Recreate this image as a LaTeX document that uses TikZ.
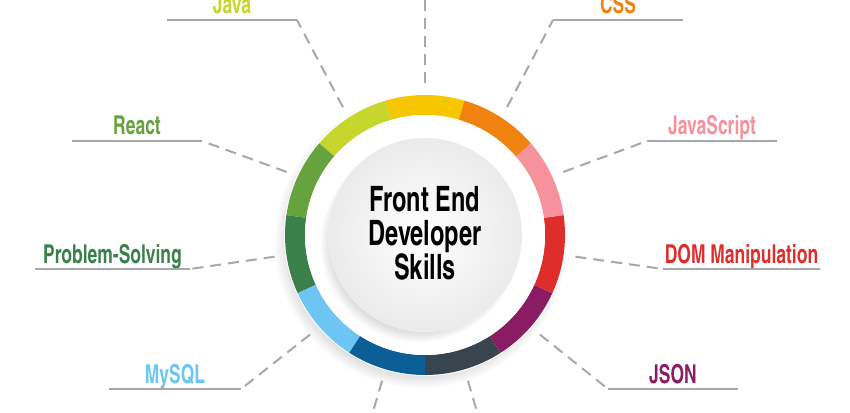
\documentclass[tikz,border=0pt]{standalone}
\usepackage{fontspec}
\usepackage{tikz}
\usetikzlibrary{positioning, calc, shadows}
\newfontfamily\skillfont{texgyreheroscn-bold}[Extension=.otf, FakeStretch=0.82]
\definecolor{ringyellow}{RGB}{246, 198, 0}
\definecolor{ringorange}{RGB}{240, 130, 16}
\definecolor{ringpink}{RGB}{247, 146, 157}
\definecolor{ringred}{RGB}{222, 45, 43}
\definecolor{ringpurple}{RGB}{138, 28, 100}
\definecolor{ringslate}{RGB}{56, 68, 78}
\definecolor{ringnavy}{RGB}{12, 94, 150}
\definecolor{ringsky}{RGB}{108, 197, 242}
\definecolor{ringforest}{RGB}{58, 128, 74}
\definecolor{ringgreen}{RGB}{102, 162, 62}
\definecolor{ringlime}{RGB}{198, 214, 44}
\definecolor{leadergray}{RGB}{168, 168, 168}
\newcommand{\ringpart}[3]{\fill[#1] (#2:120) arc[start angle=#2, end angle=#3, radius=120] -- (#3:140) arc[start angle=#3, end angle=#2, radius=140] -- cycle;}

\begin{document}
\begin{tikzpicture}[
    x=1pt, y=1pt,
    leader/.style={leadergray, line width=2pt, dash pattern=on 11pt off 7pt},
    underline/.style={leadergray, line width=2pt},
    skill/.style={font=\skillfont\fontsize{26}{26}\selectfont, inner sep=0pt, anchor=base},
    title/.style={font=\skillfont\fontsize{35}{34}\selectfont, align=center, text=black}
]
\clip (-425,-177) rectangle (425,235);
\fill[white] (-425,-177) rectangle (425,235);

% Ring
\fill[white, circular drop shadow={shadow xshift=-4pt, shadow yshift=-6pt, shadow scale=1.04, opacity=.4}] (0,0) circle (141);
\ringpart{ringyellow}{73.636}{106.364}
\ringpart{ringlime}{106.364}{139.091}
\ringpart{ringgreen}{139.091}{171.818}
\ringpart{ringforest}{171.818}{204.545}
\ringpart{ringsky}{204.545}{237.273}
\ringpart{ringnavy}{237.273}{270}
\ringpart{ringslate}{270}{302.727}
\ringpart{ringpurple}{302.727}{335.455}
\ringpart{ringred}{335.455}{368.182}
\ringpart{ringpink}{8.182}{40.909}
\ringpart{ringorange}{40.909}{73.636}
\fill[white] (0,0) circle (120);

% Centre
\fill[white, circular drop shadow={shadow xshift=-6pt, shadow yshift=-8pt, shadow scale=1.02, opacity=.35}] (0,0) circle (97);
\shade[inner color=white, outer color=black!8] (0,0) circle (97);
\node[title] (centre) at (0,2) {Front End\\Developer\\Skills};

% Leader points
\coordinate (toptip) at (90:152);
\coordinate (topbend) at (0,250);
\coordinate (javatip) at (122.7:152);
\coordinate (javabend) at (-128,215);
\coordinate (javaend) at (-258,215);
\coordinate (reacttip) at (155.5:152);
\coordinate (reactbend) at (-223,94);
\coordinate (reactend) at (-353,94);
\coordinate (solvetip) at (188.2:152);
\coordinate (solvebend) at (-235,-34);
\coordinate (solveend) at (-390,-34);
\coordinate (mysqltip) at (220.9:152);
\coordinate (mysqlbend) at (-184,-154);
\coordinate (mysqlend) at (-316,-154);
\coordinate (navytip) at (253.6:152);
\coordinate (navybend) at (253.6:260);
\coordinate (slatetip) at (286.4:152);
\coordinate (slatebend) at (286.4:260);
\coordinate (jsontip) at (319.1:152);
\coordinate (jsonbend) at (183,-154);
\coordinate (jsonend) at (313,-154);
\coordinate (domtip) at (351.8:152);
\coordinate (dombend) at (238,-34);
\coordinate (domend) at (395,-34);
\coordinate (jstip) at (24.5:152);
\coordinate (jsbend) at (222,94);
\coordinate (jsend) at (352,94);
\coordinate (csstip) at (57.3:152);
\coordinate (cssbend) at (128,215);
\coordinate (cssend) at (258,215);

% Labels
\node[skill, text=ringlime] (java) at ($(javabend)!.5!(javaend)+(0,6)$) {Java};
\node[skill, text=ringgreen] (react) at ($(reactbend)!.5!(reactend)+(0,6)$) {React};
\node[skill, text=ringforest] (solve) at ($(solvebend)!.5!(solveend)+(0,6)$) {Problem-Solving};
\node[skill, text=ringsky] (mysql) at ($(mysqlbend)!.5!(mysqlend)+(0,6)$) {MySQL};
\node[skill, text=ringpurple] (json) at ($(jsonbend)!.5!(jsonend)+(0,6)$) {JSON};
\node[skill, text=ringred] (dom) at ($(dombend)!.5!(domend)+(0,6)$) {DOM Manipulation};
\node[skill, text=ringpink] (js) at ($(jsbend)!.5!(jsend)+(0,6)$) {JavaScript};
\node[skill, text=ringorange] (css) at ($(cssbend)!.5!(cssend)+(0,6)$) {CSS};

% Leaders
\draw[leader] (toptip) -- (topbend);
\draw[leader] (javatip) -- (javabend);
\draw[underline] (javabend) -- (javaend);
\draw[leader] (reacttip) -- (reactbend);
\draw[underline] (reactbend) -- (reactend);
\draw[leader] (solvetip) -- (solvebend);
\draw[underline] (solvebend) -- (solveend);
\draw[leader] (mysqltip) -- (mysqlbend);
\draw[underline] (mysqlbend) -- (mysqlend);
\draw[leader] (navytip) -- (navybend);
\draw[leader] (slatetip) -- (slatebend);
\draw[leader] (jsontip) -- (jsonbend);
\draw[underline] (jsonbend) -- (jsonend);
\draw[leader] (domtip) -- (dombend);
\draw[underline] (dombend) -- (domend);
\draw[leader] (jstip) -- (jsbend);
\draw[underline] (jsbend) -- (jsend);
\draw[leader] (csstip) -- (cssbend);
\draw[underline] (cssbend) -- (cssend);

\end{tikzpicture}
\end{document}
